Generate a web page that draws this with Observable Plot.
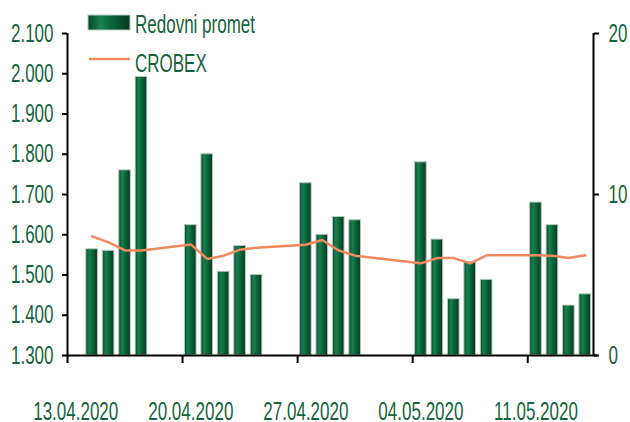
<!DOCTYPE html>
<html>
<head>
<meta charset="utf-8">
<script src="https://cdn.jsdelivr.net/npm/d3@7"></script>
<script src="https://cdn.jsdelivr.net/npm/@observablehq/plot@0.6"></script>
<style>
  html, body { margin: 0; padding: 0; background: #fff; }
  #chart { position: relative; width: 630px; height: 422px; }
</style>
</head>
<body>
<div id="chart"></div>
<script>
// ---- Data ----
const tradingDays = ["2020-04-14","2020-04-15","2020-04-16","2020-04-17",
  "2020-04-20","2020-04-21","2020-04-22","2020-04-23","2020-04-24",
  "2020-04-27","2020-04-28","2020-04-29","2020-04-30",
  "2020-05-04","2020-05-05","2020-05-06","2020-05-07","2020-05-08",
  "2020-05-11","2020-05-12","2020-05-13","2020-05-14"];
const redovniPromet = [6.6, 6.5, 11.5, 17.3, 8.1, 12.5, 5.2, 6.8, 5.0, 10.7, 7.5, 8.6, 8.4,
  12.0, 7.2, 3.5, 5.8, 4.7, 9.5, 8.1, 3.1, 3.8];
const crobex = [1596, 1581, 1561, 1561, 1576, 1540, 1548, 1563, 1568, 1575, 1587, 1561, 1548,
  1529, 1542, 1542, 1529, 1549, 1549, 1548, 1542, 1549];
const weekTicks = ["2020-04-13","2020-04-20","2020-04-27","2020-05-04","2020-05-11"];
const xDomain = ["2020-04-13", "2020-05-15"];
const leftDomain = [1300, 2100];
const leftTicks = [1300, 1400, 1500, 1600, 1700, 1800, 1900, 2000, 2100];
const rightDomain = [0, 20];
const rightTicks = [0, 10, 20];
const seriesNames = ["Redovni promet", "CROBEX"];

// ---- Helpers ----
const parse = d3.utcParse("%Y-%m-%d");
const noon = d => d3.utcHour.offset(d, 12);
const toLeft = v => leftDomain[0] + (v - rightDomain[0]) * (leftDomain[1] - leftDomain[0]) / (rightDomain[1] - rightDomain[0]);
const fromLeft = v => rightDomain[0] + (v - leftDomain[0]) * (rightDomain[1] - rightDomain[0]) / (leftDomain[1] - leftDomain[0]);
const hr = d3.formatLocale({decimal: ",", thousands: ".", grouping: [3], currency: ["", ""]});
const fmtThousands = hr.format(",");
const fmtDate = d3.utcFormat("%d.%m.%Y");

const table = tradingDays.map((d, i) => ({date: parse(d), promet: redovniPromet[i], crobex: crobex[i]}));
const weeks = weekTicks.map(parse);

const GREEN_TEXT = "#16643c";
const ORANGE = "#f0895c";

const plot = Plot.plot({
  width: 630,
  height: 422,
  marginLeft: 67,
  marginRight: 37,
  marginTop: 33,
  marginBottom: 67,
  style: {fontFamily: "'Liberation Sans', Arial, sans-serif", fontSize: "25px", color: GREEN_TEXT, background: "#fff"},
  x: {type: "utc", domain: xDomain.map(parse), axis: null},
  y: {domain: leftDomain, axis: null},
  marks: [
    Plot.rectY(table, {
      x: "date", interval: "day",
      y1: () => leftDomain[0], y2: d => toLeft(d.promet),
      insetLeft: 2.4, insetRight: 2.4,
      fill: "url(#barGrad)", stroke: "#b8c8be", strokeWidth: 1
    }),
    Plot.lineY(table, {x: d => noon(d.date), y: "crobex", stroke: ORANGE, strokeWidth: 2.5}),
    // axis lines
    Plot.ruleX([parse(xDomain[0]), parse(xDomain[1])], {stroke: "black", strokeWidth: 2}),
    Plot.ruleY([leftDomain[0]], {stroke: "black", strokeWidth: 2, insetRight: -4}),
    // left axis
    Plot.axisY({anchor: "left", label: null, ticks: leftTicks, tickFormat: fmtThousands, tickSize: 5, tickPadding: 9,
      stroke: "black", strokeWidth: 2, fill: GREEN_TEXT}),
    // right axis
    Plot.axisY({anchor: "right", label: null, ticks: rightTicks.map(toLeft), tickFormat: d => String(Math.round(fromLeft(d))),
      tickSize: 5, tickPadding: 10, stroke: "black", strokeWidth: 2, fill: GREEN_TEXT}),
    // x tick marks at week starts
    Plot.axisX({label: null, ticks: weeks, tickFormat: () => "", tickSize: 8, stroke: "black", strokeWidth: 2}),
    // x labels at day centers
    Plot.axisX({label: null, ticks: weeks.map(noon), tickFormat: fmtDate, tickSize: 0, tickPadding: 47, fill: GREEN_TEXT})
  ]
});

document.getElementById("chart").appendChild(plot);

// gradient defs
const svg = d3.select(plot);
const defs = svg.insert("defs", ":first-child");
const grad = defs.append("linearGradient").attr("id", "barGrad").attr("x1", "0").attr("x2", "1").attr("y1", "0").attr("y2", "0");
[["0%", "#0a4a2d"], ["30%", "#15814f"], ["50%", "#0e6b41"], ["100%", "#043a20"]].forEach(([o, c]) =>
  grad.append("stop").attr("offset", o).attr("stop-color", c));

// legend
const lg = svg.append("g").attr("class", "legend").attr("text-anchor", "start");
lg.append("rect").attr("x", 88).attr("y", 15).attr("width", 42).attr("height", 15)
  .attr("fill", "url(#barGrad)").attr("stroke", "#b8c8be");
lg.append("text").attr("x", 135).attr("y", 33).attr("fill", GREEN_TEXT).attr("font-size", 25).text(seriesNames[0]);
lg.append("line").attr("x1", 89).attr("x2", 130).attr("y1", 59).attr("y2", 59)
  .attr("stroke", ORANGE).attr("stroke-width", 2.5);
lg.append("text").attr("x", 135).attr("y", 72).attr("fill", GREEN_TEXT).attr("font-size", 25).text(seriesNames[1]);

// condensed text look
plot.querySelectorAll("text").forEach(t => {
  const len = t.getComputedTextLength();
  if (len > 0) {
    t.setAttribute("textLength", (len * 0.68).toFixed(1));
    t.setAttribute("lengthAdjust", "spacingAndGlyphs");
  }
});
</script>
</body>
</html>
